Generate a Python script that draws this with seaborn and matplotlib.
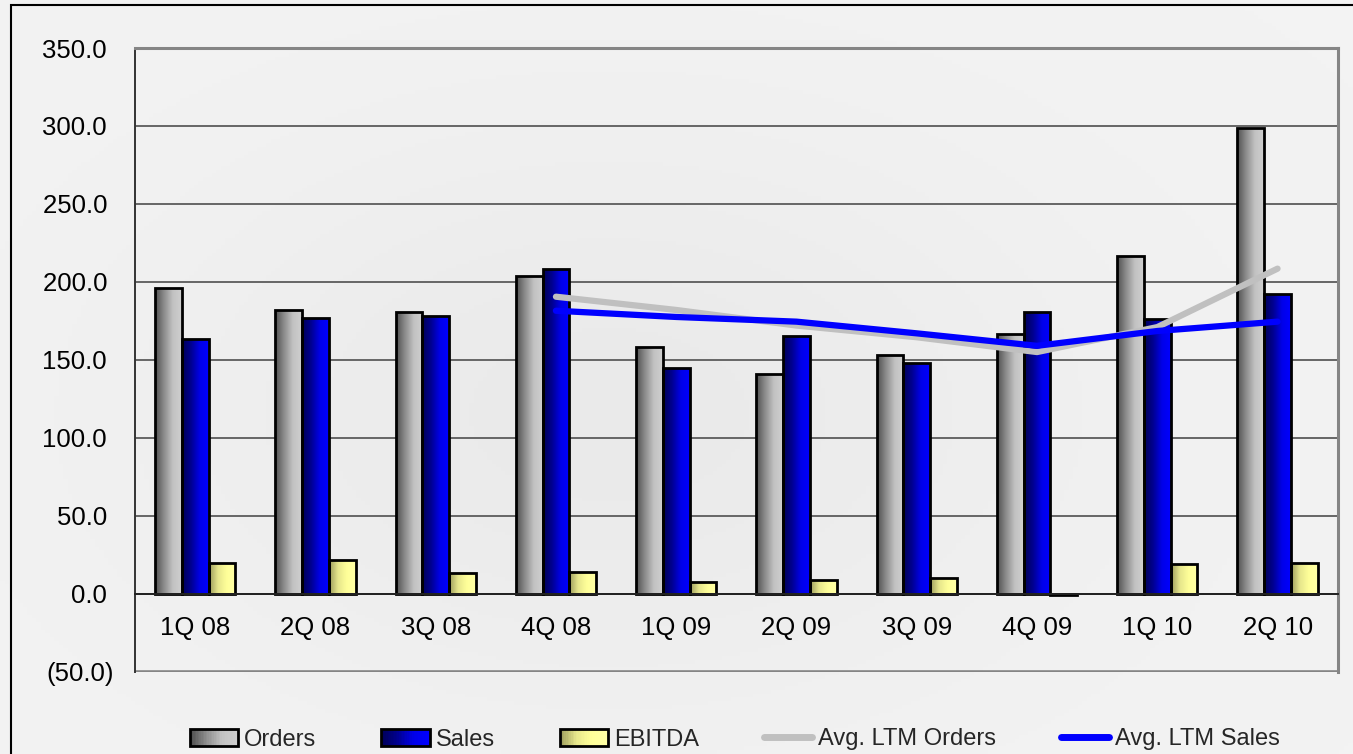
import numpy as np
import pandas as pd
import matplotlib
matplotlib.use('Agg')
import matplotlib.pyplot as plt
from matplotlib.colors import LinearSegmentedColormap
from matplotlib.patches import Rectangle
from matplotlib.lines import Line2D
from matplotlib.legend_handler import HandlerBase
from matplotlib.ticker import FixedLocator, FuncFormatter
import seaborn as sns

# values
quarters = ['1Q 08', '2Q 08', '3Q 08', '4Q 08', '1Q 09', '2Q 09', '3Q 09', '4Q 09', '1Q 10', '2Q 10']
orders = [196.0, 182.0, 181.0, 204.0, 158.0, 141.0, 153.0, 166.5, 216.5, 299.0]
sales = [163.5, 177.0, 178.0, 208.0, 145.0, 165.0, 148.0, 181.0, 176.0, 192.0]
ebitda = [19.5, 21.5, 13.0, 14.0, 7.5, 8.5, 10.0, -1.0, 19.0, 20.0]
ltm_quarters = ['4Q 08', '1Q 09', '2Q 09', '3Q 09', '4Q 09', '1Q 10', '2Q 10']
ltm_orders = [190.5, 182.0, 172.0, 164.5, 155.0, 171.0, 208.5]
ltm_sales = [181.5, 177.5, 174.5, 167.0, 159.0, 168.5, 174.5]
y_ticks = [-50, 0, 50, 100, 150, 200, 250, 300, 350]

series = ['Orders', 'Sales', 'EBITDA']
df = pd.DataFrame({
    'quarter': quarters * 3,
    'series': [s for s in series for _ in quarters],
    'value': orders + sales + ebitda,
})

sns.set_style('white')
plt.rcParams['font.family'] = ['Liberation Sans', 'DejaVu Sans']

# gradient fills like the original Excel bars
cmaps = {
    'Orders': LinearSegmentedColormap.from_list('o', ['#505050', '#8c8c8c', '#c2c2c2', '#cfcfcf']),
    'Sales': LinearSegmentedColormap.from_list('s', ['#000058', '#000090', '#0000e8', '#0000ff']),
    'EBITDA': LinearSegmentedColormap.from_list('e', ['#9c9c5c', '#e6e68c', '#ffff99', '#ffffa6']),
}
mid_colors = {'Orders': '#999999', 'Sales': '#0000c0', 'EBITDA': '#f0f090'}

W, H = 1353, 754
fig = plt.figure(figsize=(W / 100, H / 100), dpi=100)
fig.patch.set_facecolor('#ebebeb')

# soft grey backdrop
bg = fig.add_axes([0, 0, 1, 1])
yy, xx = np.mgrid[0:1:200j, 0:1:300j]
shade = 0.95 - 0.035 * np.exp(-((xx - 0.45) ** 2 / 0.12 + (yy - 0.55) ** 2 / 0.15))
bg.imshow(shade, cmap='gray', vmin=0, vmax=1, aspect='auto', extent=(0, 1, 0, 1))
bg.axis('off')
bg.set_zorder(0)

ax = fig.add_axes([135 / W, 1 - 671.7 / H, (1337.7 - 135) / W, (671.7 - 48) / H])
ax.set_zorder(1)
ax.patch.set_alpha(0)

sns.barplot(data=df, x='quarter', y='value', hue='series', order=quarters,
            hue_order=series, palette=mid_colors, width=0.667, gap=0,
            saturation=1, edgecolor='black', linewidth=2.0, legend=False,
            errorbar=None, ax=ax)

grad = np.linspace(0, 1, 64).reshape(1, -1)
for name, cont in zip(series, ax.containers):
    for bar in cont:
        x0 = bar.get_x()
        x1 = x0 + bar.get_width()
        y0 = min(bar.get_y(), bar.get_y() + bar.get_height())
        y1 = max(bar.get_y(), bar.get_y() + bar.get_height())
        im = ax.imshow(grad, cmap=cmaps[name], aspect='auto', extent=(x0, x1, y0, y1),
                       zorder=2.1, interpolation='bilinear')
        im.set_clip_path(bar)
        bar.set_facecolor('none')
        bar.set_zorder(2.2)

xpos = [quarters.index(q) for q in ltm_quarters]
sns.lineplot(x=xpos, y=ltm_orders, color='#c0c0c0', linewidth=4.5, ax=ax,
             zorder=3, solid_capstyle='round')
sns.lineplot(x=xpos, y=ltm_sales, color='#0000ff', linewidth=4.5, ax=ax,
             zorder=3.1, solid_capstyle='round')

ax.set_xlim(-0.5, len(quarters) - 0.5)
ax.set_ylim(-50, 350)
ax.set_xlabel('')
ax.set_ylabel('')

ax.yaxis.set_major_locator(FixedLocator(y_ticks))
ax.yaxis.set_major_formatter(FuncFormatter(
    lambda v, p: f'({abs(v):.1f})' if v < 0 else f'{v:.1f}\u2008'))
ax.yaxis.grid(True, color='#666666', linewidth=1.4)
ax.set_axisbelow(True)

ax.spines['bottom'].set_position(('data', 0))
ax.spines['bottom'].set_color('#222222')
ax.spines['bottom'].set_linewidth(1.4)
ax.spines['left'].set_color('#333333')
ax.spines['left'].set_linewidth(1.4)
for s in ['top', 'right']:
    ax.spines[s].set_color('#858585')
    ax.spines[s].set_linewidth(2.2)
ax.axhline(-50, color='#858585', linewidth=2.6, zorder=1.5)

ax.set_xticks(range(len(quarters)))
ax.set_xticklabels(quarters)
ax.xaxis.set_minor_locator(FixedLocator(np.arange(0.5, len(quarters) - 0.5, 1)))
ax.tick_params(axis='x', which='major', length=0, pad=16, labelsize=18.5, labelcolor='black')
ax.tick_params(axis='x', which='minor', length=7, width=1.3, direction='out', color='#222222')
ax.tick_params(axis='y', length=7, width=1.3, direction='out', color='#333333',
               pad=8, labelsize=18.5, labelcolor='black')


class GradientHandler(HandlerBase):
    def __init__(self, cmap):
        super().__init__()
        self.cmap = cmap

    def create_artists(self, legend, orig_handle, xdescent, ydescent, width, height, fontsize, trans):
        n = 30
        arts = []
        for i in range(n):
            arts.append(Rectangle((-xdescent + i * width / n, -ydescent), width / n + 0.3, height,
                                  facecolor=self.cmap(i / (n - 1)), edgecolor='none', transform=trans))
        arts.append(Rectangle((-xdescent, -ydescent), width, height, fill=False,
                              edgecolor='black', linewidth=2.0, transform=trans))
        return arts


proxies = [Rectangle((0, 0), 1, 1, label=s) for s in series]
handles = proxies + [
    Line2D([], [], color='#c0c0c0', linewidth=5, solid_capstyle='round', label='Avg. LTM Orders'),
    Line2D([], [], color='#0000ff', linewidth=5, solid_capstyle='round', label='Avg. LTM Sales'),
]
fig.legend(handles=handles, loc='center', bbox_to_anchor=(735 / W, 1 - 739.5 / H), ncol=5,
           frameon=False, fontsize=17, handlelength=2.05, handleheight=0.7,
           handletextpad=0.25, columnspacing=2.75,
           handler_map={p: GradientHandler(cmaps[p.get_label()]) for p in proxies})

# outer frame of the original slide object
fig.add_artist(Rectangle((11 / W, -0.05), 1.2, 1.05 - 5 / H, transform=fig.transFigure,
                         fill=False, edgecolor='black', linewidth=1.5))

fig.savefig('out.png', dpi=100, facecolor=fig.get_facecolor())
